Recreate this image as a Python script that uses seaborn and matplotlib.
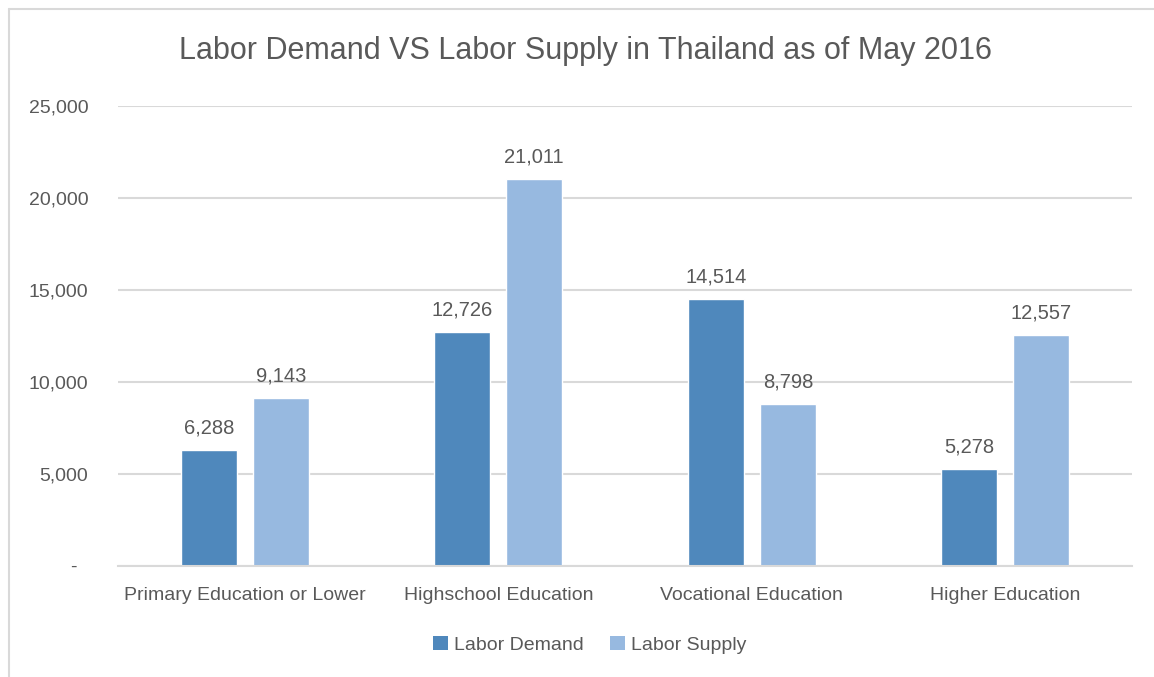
import matplotlib
matplotlib.use("Agg")
import matplotlib.pyplot as plt
from matplotlib.patches import Patch
from matplotlib.lines import Line2D
import pandas as pd
import seaborn as sns

categories = ["Primary Education or Lower", "Highschool Education",
              "Vocational Education", "Higher Education"]
labor_demand = [6288, 12726, 14514, 5278]
labor_supply = [9143, 21011, 8798, 12557]
series = ["Labor Demand", "Labor Supply"]
y_ticks = [0, 5000, 10000, 15000, 20000, 25000]

df = pd.DataFrame({
    "Category": categories * 2,
    "Series": [series[0]] * 4 + [series[1]] * 4,
    "Value": labor_demand + labor_supply,
})

sns.set_theme(style="white")
plt.rcParams["font.family"] = ["Liberation Sans", "DejaVu Sans"]
TXT = "#595959"
PAL = {"Labor Demand": "#4F88BC", "Labor Supply": "#97B9E0"}

fig = plt.figure(figsize=(11.54, 6.77), dpi=100)
ax = fig.add_axes([0.1023, 0.164, 0.8787, 0.6793])

sns.barplot(data=df, x="Category", y="Value", hue="Series", palette=PAL,
            width=0.568, gap=0.22, ax=ax, legend=False, saturation=1)

ax.set_ylim(0, 25000)
ax.set_xlim(-0.5, 3.5)
ax.set_yticks(y_ticks)
ax.set_yticklabels([f"{v:,}" if v else "-  " for v in y_ticks],
                   fontsize=14, color=TXT)
ax.set_xticklabels(categories, fontsize=14, color=TXT)
ax.tick_params(axis="y", length=0, pad=21.5)
ax.tick_params(axis="x", length=0, pad=15)
ax.yaxis.grid(True, color="#D9D9D9", linewidth=1.5)
ax.set_axisbelow(True)
for s in ["top", "right", "left"]:
    ax.spines[s].set_visible(False)
ax.spines["bottom"].set_color("#D9D9D9")
ax.spines["bottom"].set_linewidth(1.5)
ax.set_xlabel("")
ax.set_ylabel("")

for c in ax.containers:
    ax.bar_label(c, labels=[f"{v:,.0f}" for v in c.datavalues],
                 padding=9, fontsize=14.5, color=TXT)

fig.text(0.507, 0.924, "Labor Demand VS Labor Supply in Thailand as of May 2016",
         ha="center", va="center", fontsize=22, color=TXT)

handles = [Patch(facecolor=PAL[s], edgecolor="none") for s in series]
fig.legend(handles, series, loc="center", bbox_to_anchor=(0.511, 0.047),
           ncol=2, frameon=False, fontsize=14, labelcolor=TXT,
           handlelength=0.75, handleheight=0.75, handletextpad=0.3,
           columnspacing=1.4)

# chart border (left and top edges)
fig.add_artist(Line2D([0.008, 0.008], [0.0, 0.987], transform=fig.transFigure,
                      color="#D9D9D9", linewidth=1.5))
fig.add_artist(Line2D([0.008, 1.0], [0.987, 0.987], transform=fig.transFigure,
                      color="#D9D9D9", linewidth=1.5))

plt.savefig("out.png", dpi=100)
plt.close()
